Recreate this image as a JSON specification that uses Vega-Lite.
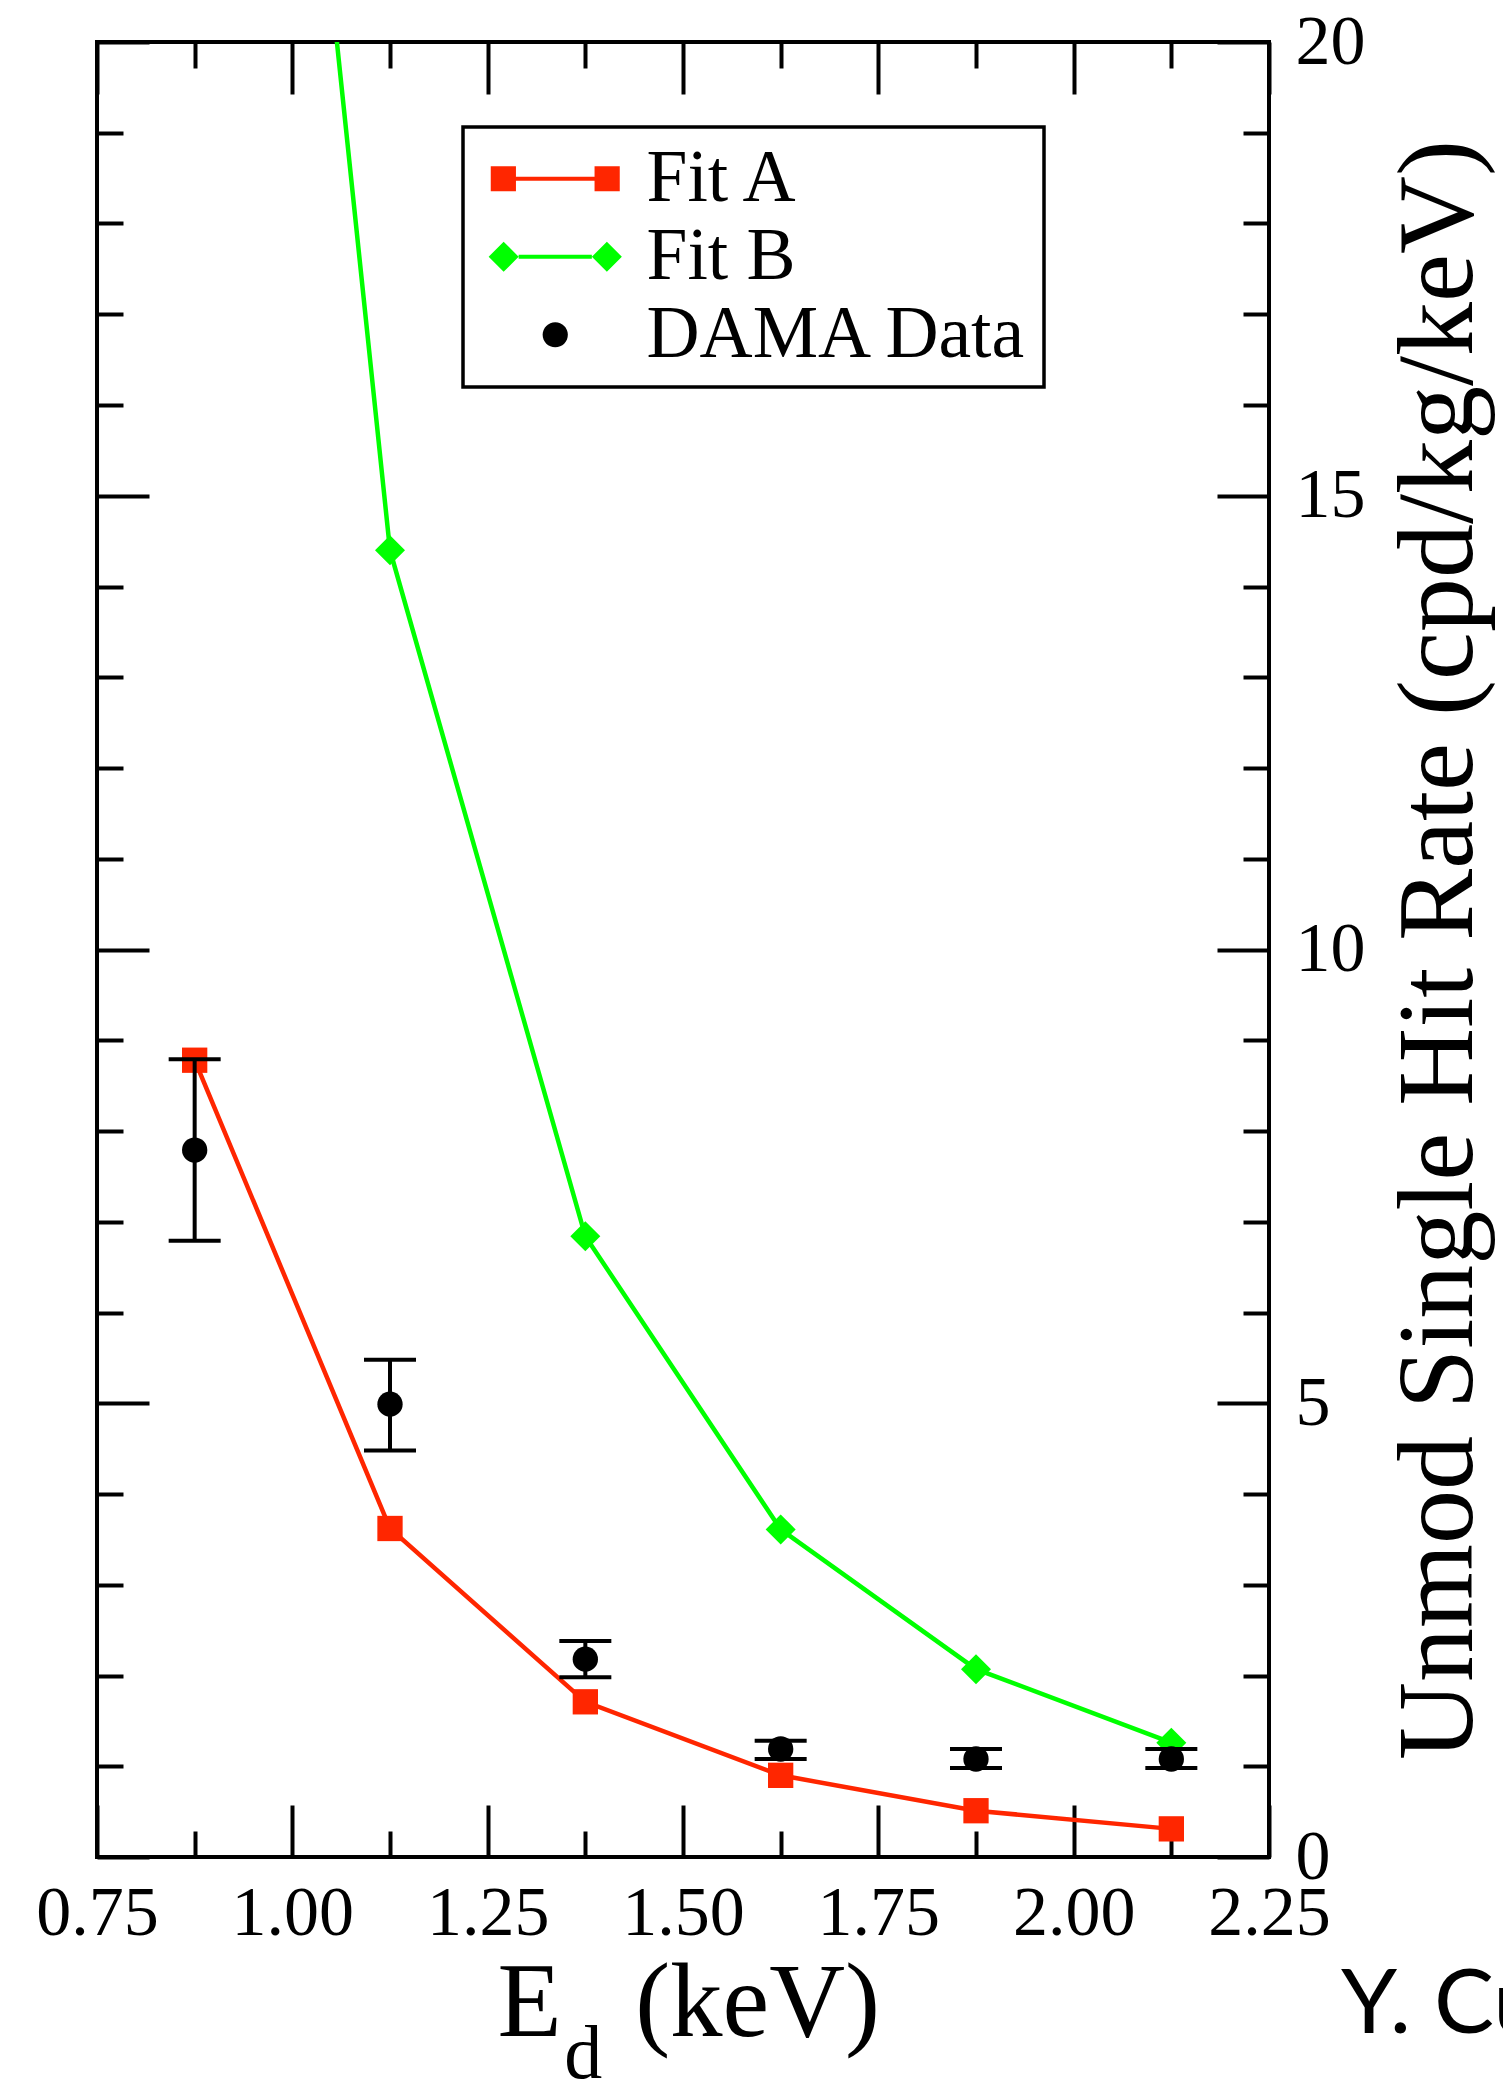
{
  "$schema": "https://vega.github.io/schema/vega-lite/v6.json",
  "width": 1172,
  "height": 1815,
  "autosize": {"type": "none"},
  "padding": {"left": 97, "top": 42, "right": 234, "bottom": 225},
  "background": "white",
  "config": {
    "view": {"stroke": "black", "strokeWidth": 4},
    "font": "Liberation Serif",
    "legend": {"strokeWidth": 3.5}
  },
  "datasets": {
    "fits": [
      {"E": 0.875, "rate": 8.78, "series": "Fit A"},
      {"E": 1.125, "rate": 3.62, "series": "Fit A"},
      {"E": 1.375, "rate": 1.71, "series": "Fit A"},
      {"E": 1.625, "rate": 0.90, "series": "Fit A"},
      {"E": 1.875, "rate": 0.51, "series": "Fit A"},
      {"E": 2.125, "rate": 0.31, "series": "Fit A"},
      {"E": 0.875, "rate": 35.0, "series": "Fit B"},
      {"E": 1.125, "rate": 14.40, "series": "Fit B"},
      {"E": 1.375, "rate": 6.84, "series": "Fit B"},
      {"E": 1.625, "rate": 3.61, "series": "Fit B"},
      {"E": 1.875, "rate": 2.07, "series": "Fit B"},
      {"E": 2.125, "rate": 1.26, "series": "Fit B"}
    ],
    "dama": [
      {"E": 0.875, "rate": 7.79, "lo": 6.79, "hi": 8.79, "series": "DAMA Data"},
      {"E": 1.125, "rate": 4.99, "lo": 4.48, "hi": 5.48, "series": "DAMA Data"},
      {"E": 1.375, "rate": 2.18, "lo": 1.98, "hi": 2.38, "series": "DAMA Data"},
      {"E": 1.625, "rate": 1.19, "lo": 1.08, "hi": 1.28, "series": "DAMA Data"},
      {"E": 1.875, "rate": 1.08, "lo": 0.98, "hi": 1.19, "series": "DAMA Data"},
      {"E": 2.125, "rate": 1.08, "lo": 0.98, "hi": 1.19, "series": "DAMA Data"}
    ]
  },
  "layer": [
    {
      "data": {"name": "fits"},
      "transform": [{"filter": "datum.series === 'Fit A'"}],
      "mark": {"type": "line", "strokeWidth": 4.5, "color": "#ff2600", "clip": true},
      "encoding": {
        "x": {
          "field": "E", "type": "quantitative",
          "scale": {"domain": [0.75, 2.25], "nice": false, "zero": false},
          "axis": {
            "orient": "bottom",
            "values": [0.75, 0.875, 1, 1.125, 1.25, 1.375, 1.5, 1.625, 1.75, 1.875, 2, 2.125, 2.25],
            "labelExpr": "datum.value % 0.25 === 0 ? format(datum.value, '.2f') : ''",
            "tickSize": {"condition": {"test": "datum.value % 0.25 === 0", "value": -52}, "value": -26},
            "tickWidth": 4, "tickColor": "black",
            "domain": false, "grid": false,
            "labelFont": "Liberation Serif", "labelFontSize": 70, "labelColor": "black",
            "labelPadding": 74, "labelBaseline": "top", "labelAlign": "center",
            "labelFlush": false, "labelOverlap": false, "labelBound": false,
            "title": "E\u2002\u2009(keV)",
            "titleFont": "Liberation Serif", "titleFontSize": 105, "titleFontWeight": "normal", "titleColor": "black",
            "titleX": 400, "titleY": 178, "titleAlign": "left", "titleBaseline": "alphabetic", "titleAngle": 0
          }
        },
        "y": {
          "field": "rate", "type": "quantitative",
          "scale": {"domain": [0, 20], "nice": false},
          "axis": {
            "orient": "right",
            "values": [0, 1, 2, 3, 4, 5, 6, 7, 8, 9, 10, 11, 12, 13, 14, 15, 16, 17, 18, 19, 20],
            "labelExpr": "datum.value % 5 === 0 ? '' + datum.value : ''",
            "tickSize": {"condition": {"test": "datum.value % 5 === 0", "value": -52}, "value": -26},
            "tickWidth": 4, "tickColor": "black",
            "domain": false, "grid": false,
            "labelFont": "Liberation Serif", "labelFontSize": 70, "labelColor": "black",
            "labelPadding": 78, "labelAlign": "left", "labelBaseline": "middle",
            "labelFlush": false, "labelOverlap": false, "labelBound": false,
            "title": "Unmod Single Hit Rate (cpd/kg/keV)",
            "titleFont": "Liberation Serif", "titleFontSize": 108, "titleFontWeight": "normal", "titleColor": "black",
            "titleX": 202, "titleY": 907.5, "titleAlign": "center", "titleBaseline": "alphabetic", "titleAngle": 270
          }
        }
      }
    },
    {
      "data": {"name": "fits"},
      "transform": [{"filter": "datum.series === 'Fit B'"}],
      "mark": {"type": "line", "strokeWidth": 4.5, "color": "#00ff00", "clip": true},
      "encoding": {
        "x": {"field": "E", "type": "quantitative", "axis": null},
        "y": {"field": "rate", "type": "quantitative", "axis": null}
      }
    },
    {
      "data": {"name": "fits"},
      "transform": [{"filter": "datum.series === 'Fit A'"}],
      "mark": {"type": "point", "shape": "square", "filled": true, "opacity": 1, "size": 640, "color": "#ff2600", "clip": true},
      "encoding": {
        "x": {
          "field": "E", "type": "quantitative",
          "axis": {
            "orient": "top",
            "values": [0.75, 0.875, 1, 1.125, 1.25, 1.375, 1.5, 1.625, 1.75, 1.875, 2, 2.125, 2.25],
            "labels": false,
            "tickSize": {"condition": {"test": "datum.value % 0.25 === 0", "value": -52}, "value": -26},
            "tickWidth": 4, "tickColor": "black",
            "domain": false, "grid": false, "title": null
          }
        },
        "y": {
          "field": "rate", "type": "quantitative",
          "axis": {
            "orient": "left",
            "values": [0, 1, 2, 3, 4, 5, 6, 7, 8, 9, 10, 11, 12, 13, 14, 15, 16, 17, 18, 19, 20],
            "labels": false,
            "tickSize": {"condition": {"test": "datum.value % 5 === 0", "value": -52}, "value": -26},
            "tickWidth": 4, "tickColor": "black",
            "domain": false, "grid": false, "title": null
          }
        }
      }
    },
    {
      "data": {"name": "fits"},
      "transform": [{"filter": "datum.series === 'Fit B'"}],
      "mark": {"type": "point", "shape": "diamond", "filled": true, "opacity": 1, "size": 900, "color": "#00ff00", "clip": true},
      "encoding": {
        "x": {"field": "E", "type": "quantitative", "axis": null},
        "y": {"field": "rate", "type": "quantitative", "axis": null}
      }
    },
    {
      "data": {"name": "dama"},
      "mark": {"type": "rule", "strokeWidth": 4, "color": "black"},
      "encoding": {
        "x": {"field": "E", "type": "quantitative", "axis": null},
        "y": {"field": "lo", "type": "quantitative", "axis": null},
        "y2": {"field": "hi"}
      }
    },
    {
      "data": {"name": "dama"},
      "mark": {"type": "tick", "orient": "horizontal", "size": 52, "thickness": 4, "color": "black", "opacity": 1},
      "encoding": {
        "x": {"field": "E", "type": "quantitative", "axis": null},
        "y": {"field": "lo", "type": "quantitative", "axis": null}
      }
    },
    {
      "data": {"name": "dama"},
      "mark": {"type": "tick", "orient": "horizontal", "size": 52, "thickness": 4, "color": "black", "opacity": 1},
      "encoding": {
        "x": {"field": "E", "type": "quantitative", "axis": null},
        "y": {"field": "hi", "type": "quantitative", "axis": null}
      }
    },
    {
      "data": {"name": "dama"},
      "mark": {"type": "point", "shape": "circle", "filled": true, "opacity": 1, "size": 640, "color": "black"},
      "encoding": {
        "x": {"field": "E", "type": "quantitative", "axis": null},
        "y": {"field": "rate", "type": "quantitative", "axis": null}
      }
    },
    {
      "data": {"name": "fits"},
      "transform": [{"filter": "false"}],
      "mark": {"type": "point", "filled": true, "opacity": 1, "size": 576},
      "encoding": {
        "x": {"field": "E", "type": "quantitative", "axis": null},
        "y": {"field": "rate", "type": "quantitative", "axis": null},
        "color": {
          "field": "series", "type": "nominal",
          "scale": {"domain": ["Fit A", "Fit B", "DAMA Data"], "range": ["#ff2600", "#00ff00", "#000000"]},
          "legend": {
            "orient": "none", "legendX": 366, "legendY": 85,
            "title": null, "direction": "vertical",
            "padding": 15, "rowPadding": 3,
            "strokeColor": "black", "fillColor": "white",
            "labelFont": "Liberation Serif", "labelFontSize": 73.5, "labelColor": "black",
            "labelOffset": 54.5, "labelLimit": 0,
            "symbolOffset": 40.5, "symbolSize": 576, "symbolOpacity": 1,
            "symbolStrokeWidth": 0, "symbolStrokeColor": "transparent"
          }
        },
        "shape": {
          "field": "series", "type": "nominal",
          "scale": {
            "domain": ["Fit A", "Fit B", "DAMA Data"],
            "range": [
              "M-5.375,-1.05H-3.275V1.05H-5.375Z M3.275,-1.05H5.375V1.05H3.275Z M-3.275,-0.17H3.275V0.17H-3.275Z",
              "M-5.55,0L-4.3,-1.25L-3.05,0L-4.3,1.25Z M3.05,0L4.3,-1.25L5.55,0L4.3,1.25Z M-3.05,-0.17H3.05V0.17H-3.05Z",
              "M-1.05,0A1.05,1.05,0,1,0,1.05,0A1.05,1.05,0,1,0,-1.05,0Z"
            ]
          }
        }
      }
    },
    {
      "data": {"values": [{}]},
      "mark": {"type": "text", "text": "d", "font": "Liberation Serif", "fontSize": 76, "align": "left", "baseline": "alphabetic", "fill": "black", "clip": false},
      "encoding": {
        "x": {"datum": 1.348, "type": "quantitative", "axis": null},
        "y": {"datum": -2.435, "type": "quantitative", "axis": null}
      }
    },
    {
      "data": {"values": [{}]},
      "mark": {"type": "text", "text": "Y. Cu", "font": "Lato", "fontSize": 90, "align": "left", "baseline": "alphabetic", "fill": "black", "clip": false},
      "encoding": {
        "x": {"datum": 2.342, "type": "quantitative", "axis": null},
        "y": {"datum": -1.94, "type": "quantitative", "axis": null}
      }
    }
  ],
  "resolve": {"axis": {"x": "independent", "y": "independent"}}
}
